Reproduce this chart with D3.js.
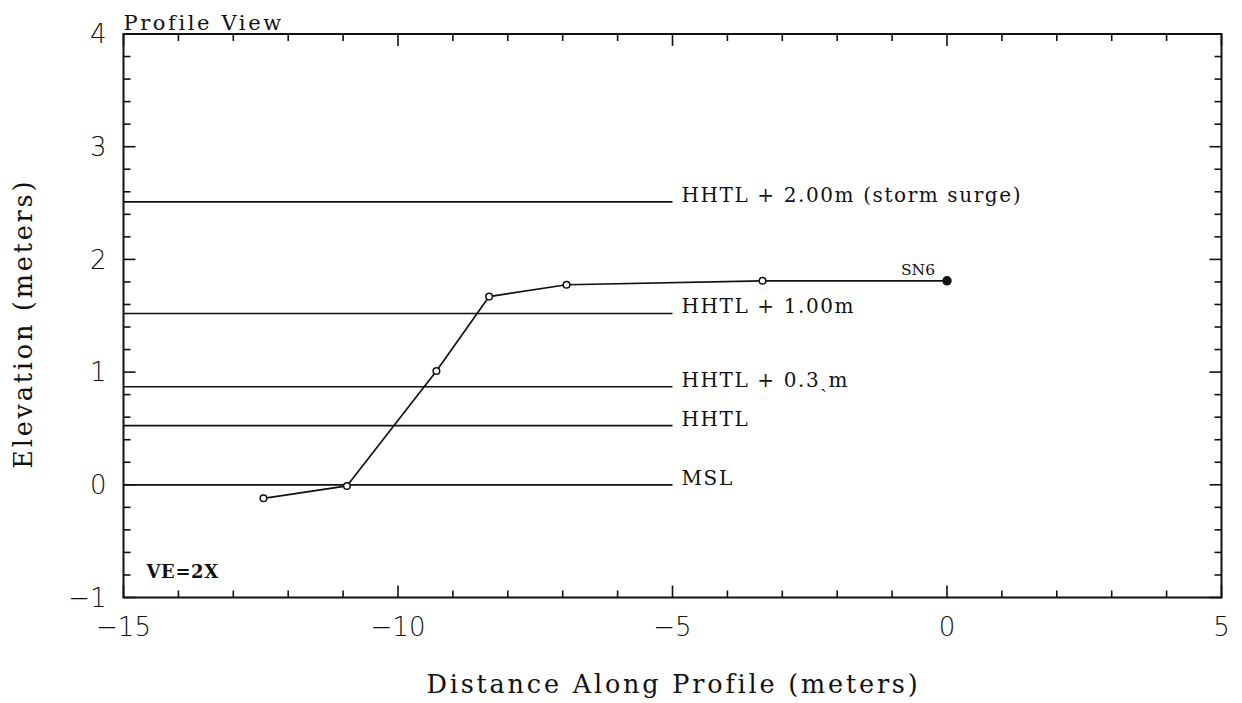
<!DOCTYPE html>
<html>
<head>
<meta charset="utf-8">
<script src="https://cdn.jsdelivr.net/npm/d3@7"></script>
<style>
  html, body { margin: 0; padding: 0; background: #fff; }
  svg { display: block; }
  .serif { font-family: "DejaVu Serif", "Liberation Serif", serif; fill: #111; }
  .num { font-family: "DejaVu Sans", "Liberation Sans", sans-serif; font-weight: 300; fill: #111; }
</style>
</head>
<body>
<svg id="chart" width="1242" height="703"></svg>
<script>
// Surveyed beach profile SN6: distance along profile (m) and elevation (m)
const profileDistance = [-12.45, -10.93, -9.30, -8.34, -6.93, -3.36, 0];
const profileElevation = [-0.12, -0.01, 1.01, 1.67, 1.775, 1.81, 1.81];
const stationName = "SN6";

// Tide / surge reference levels (m above MSL)
const levelNames = ["HHTL + 2.00m (storm surge)", "HHTL + 1.00m", "HHTL + 0.3\u02CEm", "HHTL", "MSL"];
const levelValues = [2.51, 1.52, 0.87, 0.525, 0];
const levelStart = -15, levelEnd = -5;

// Axis ticks
const xMajorTicks = [-15, -10, -5, 0, 5];
const xMinorTicks = d3.range(-15, 5.001, 1);
const yMajorTicks = [-1, 0, 1, 2, 3, 4];
const yMinorTicks = d3.range(-1, 4.001, 0.2).map(v => +v.toFixed(1));

const svg = d3.select("#chart");
const plotLeft = 123.5, plotRight = 1221.5, plotTop = 34, plotBottom = 597.5;

const x = d3.scaleLinear().domain([-15, 5]).range([plotLeft, plotRight]);
const y = d3.scaleLinear().domain([-1, 4]).range([plotBottom, plotTop]);

const minus = s => String(s).replace("-", "\u2212");

// Reference level lines and their labels
svg.append("g").selectAll("line").data(levelValues).join("line")
  .attr("x1", x(levelStart)).attr("x2", x(levelEnd))
  .attr("y1", d => y(d)).attr("y2", d => y(d))
  .attr("stroke", "#111").attr("stroke-width", 1.7);

svg.append("g").selectAll("text").data(levelNames).join("text")
  .attr("class", "serif")
  .attr("x", x(levelEnd) + 9)
  .attr("y", (d, i) => y(levelValues[i]))
  .attr("font-size", 20)
  .attr("letter-spacing", 1.6)
  .text(d => d);

// Profile line
const line = d3.line().x((d, i) => x(profileDistance[i])).y(d => y(d));
svg.append("path").datum(profileElevation)
  .attr("d", line).attr("fill", "none")
  .attr("stroke", "#111").attr("stroke-width", 1.7);

// Survey points: open circles, station marker filled
const last = profileElevation.length - 1;
svg.append("g").selectAll("circle").data(profileElevation).join("circle")
  .attr("cx", (d, i) => x(profileDistance[i]))
  .attr("cy", d => y(d))
  .attr("r", (d, i) => i === last ? 4 : 3.3)
  .attr("fill", (d, i) => i === last ? "#111" : "#fff")
  .attr("stroke", "#111").attr("stroke-width", 1.5);

svg.append("text").attr("class", "serif")
  .attr("x", x(profileDistance[last]) - 12)
  .attr("y", y(profileElevation[last]) - 6)
  .attr("text-anchor", "end")
  .attr("font-size", 15.5)
  .text(stationName);

// Frame
svg.append("rect")
  .attr("x", plotLeft).attr("y", plotTop)
  .attr("width", plotRight - plotLeft).attr("height", plotBottom - plotTop)
  .attr("fill", "none").attr("stroke", "#111").attr("stroke-width", 2);

// Inward ticks on all four sides
const tickG = svg.append("g").attr("stroke", "#111").attr("stroke-width", 1.6);
const isMajor = (arr, v) => arr.some(m => Math.abs(m - v) < 1e-6);
xMinorTicks.forEach(v => {
  const len = isMajor(xMajorTicks, v) ? 12 : 7;
  tickG.append("line").attr("x1", x(v)).attr("x2", x(v)).attr("y1", plotBottom).attr("y2", plotBottom - len);
  tickG.append("line").attr("x1", x(v)).attr("x2", x(v)).attr("y1", plotTop).attr("y2", plotTop + len);
});
yMinorTicks.forEach(v => {
  const len = isMajor(yMajorTicks, v) ? 12 : 7;
  tickG.append("line").attr("x1", plotLeft).attr("x2", plotLeft + len).attr("y1", y(v)).attr("y2", y(v));
  tickG.append("line").attr("x1", plotRight).attr("x2", plotRight - len).attr("y1", y(v)).attr("y2", y(v));
});

// Tick labels
svg.append("g").selectAll("text").data(xMajorTicks).join("text")
  .attr("class", "num")
  .attr("x", d => x(d)).attr("y", plotBottom + 38)
  .attr("text-anchor", "middle").attr("font-size", 26)
  .text(d => minus(d));

svg.append("g").selectAll("text").data(yMajorTicks).join("text")
  .attr("class", "num")
  .attr("x", plotLeft - 17).attr("y", d => y(d))
  .attr("dy", "0.36em")
  .attr("text-anchor", "end").attr("font-size", 26)
  .text(d => minus(d));

// Titles and annotations
svg.append("text").attr("class", "serif")
  .attr("x", plotLeft).attr("y", plotTop - 4)
  .attr("font-size", 21).attr("letter-spacing", 2.6)
  .text("Profile View");

svg.append("text").attr("class", "serif")
  .attr("x", (plotLeft + plotRight) / 2 + 1).attr("y", 693)
  .attr("text-anchor", "middle")
  .attr("font-size", 25.5).attr("letter-spacing", 2.8)
  .text("Distance Along Profile (meters)");

svg.append("text").attr("class", "serif")
  .attr("transform", `translate(32,${(plotTop + plotBottom) / 2 + 8}) rotate(-90)`)
  .attr("text-anchor", "middle")
  .attr("font-size", 25.5).attr("letter-spacing", 2.8)
  .text("Elevation (meters)");

svg.append("text").attr("class", "serif")
  .attr("x", plotLeft + 23).attr("y", y(-1) - 20)
  .attr("font-size", 18).attr("font-weight", "bold").attr("letter-spacing", 0.6)
  .text("VE=2X");
</script>
</body>
</html>
